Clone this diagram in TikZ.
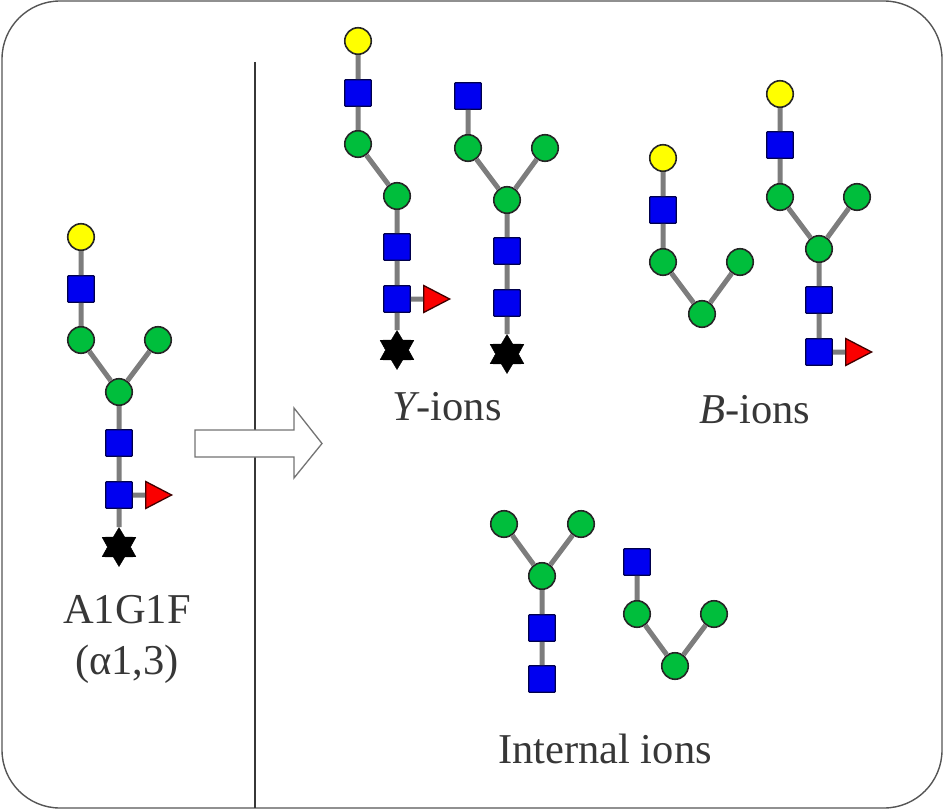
\documentclass[tikz,border=0pt]{standalone}
\usepackage{fontspec}
\setmainfont{Liberation Serif}
\usetikzlibrary{shapes.geometric}
\definecolor{glyblue}{RGB}{0,0,240}
\definecolor{glygreen}{RGB}{0,190,60}
\definecolor{glyyellow}{RGB}{255,255,0}
\definecolor{glyred}{RGB}{250,0,0}
\definecolor{bond}{RGB}{125,125,125}
\definecolor{ink}{RGB}{55,55,55}
\tikzset{
  sq/.style={rectangle,draw=black!70!blue,line width=1.2pt,fill=glyblue,minimum size=26.5pt,inner sep=0pt,rounded corners=0.8pt},
  gc/.style={circle,draw=black!85,line width=1.6pt,fill=glygreen,minimum size=26.5pt,inner sep=0pt},
  yc/.style={circle,draw=black!85,line width=1.6pt,fill=glyyellow,minimum size=26.5pt,inner sep=0pt},
  tri/.style={isosceles triangle,isosceles triangle stretches=true,draw=black!75!red,line width=1.3pt,fill=glyred,minimum width=27pt,minimum height=26pt,inner sep=0pt,anchor=west},
  hex/.style={star,star points=6,star point ratio=1.7,draw=black,fill=black,minimum size=39pt,inner sep=0pt},
  bd/.style={draw=bond,line width=5pt},
  lab/.style={text=ink,font=\fontsize{42.5}{42.5}\selectfont,inner sep=0pt,anchor=center},
}
\begin{document}
\begin{tikzpicture}[x=1pt,y=-1pt]
\useasboundingbox (0,0) rectangle (944,810);
\draw[draw=ink!85,line width=1.4pt,rounded corners=58pt] (2,1) rectangle (942,808);
\coordinate (vt) at (255,62);
\coordinate (vb) at (255,808);
\draw[draw=ink,line width=1.1pt] (vt) -- (vb);
\draw[draw=black!55,line width=1.3pt,fill=white] (195,430) -- (294,430) -- (294,408) -- (322,443.5) -- (294,478) -- (294,457) -- (195,457) -- cycle;
% A1G1F
\node[yc] (a1) at (81,237) {};
\node[sq] (a2) at (81,289) {};
\node[gc] (a3) at (81,340) {};
\node[gc] (a4) at (158,340) {};
\node[gc] (a5) at (119,392) {};
\node[sq] (a6) at (119,443) {};
\node[sq] (a7) at (119,495) {};
\node[tri] (a8) at (145,495) {};
\node[hex] (a9) at (119,547) {};
\draw[bd] (a1)--(a2) (a2)--(a3) (a3)--(a5) (a4)--(a5) (a5)--(a6) (a6)--(a7) (a7)--(a8.west) (a7)--(a9);
\node[lab] (t1) at (127,610) {A1G1F};
\node[lab] (t2) at (127,664) {(α1,3)};
% Y ion 1
\node[yc] (b1) at (358,41) {};
\node[sq] (b2) at (358,93) {};
\node[gc] (b3) at (358,144) {};
\node[gc] (b4) at (397,196) {};
\node[sq] (b5) at (397,247) {};
\node[sq] (b6) at (397,299) {};
\node[tri] (b7) at (423,299) {};
\node[hex] (b8) at (397,350) {};
\draw[bd] (b1)--(b2) (b2)--(b3) (b3)--(b4) (b4)--(b5) (b5)--(b6) (b6)--(b7.west) (b6)--(b8);
% Y ion 2
\node[sq] (c1) at (468,96) {};
\node[gc] (c2) at (468,148) {};
\node[gc] (c3) at (545,148) {};
\node[gc] (c4) at (507,200) {};
\node[sq] (c5) at (507,251) {};
\node[sq] (c6) at (507,303) {};
\node[hex] (c7) at (507,354) {};
\draw[bd] (c1)--(c2) (c2)--(c4) (c3)--(c4) (c4)--(c5) (c5)--(c6) (c6)--(c7);
\node[lab] (t3) at (447,407) {\textit{Y}\kern-3pt-ions};
% B ion 1
\node[yc] (d1) at (663,158) {};
\node[sq] (d2) at (663,210) {};
\node[gc] (d3) at (663,262) {};
\node[gc] (d4) at (740,262) {};
\node[gc] (d5) at (702,314) {};
\draw[bd] (d1)--(d2) (d2)--(d3) (d3)--(d5) (d4)--(d5);
% B ion 2
\node[yc] (e1) at (780,94) {};
\node[sq] (e2) at (780,145) {};
\node[gc] (e3) at (780,197) {};
\node[gc] (e4) at (857,197) {};
\node[gc] (e5) at (819,249) {};
\node[sq] (e6) at (819,300) {};
\node[sq] (e7) at (819,352) {};
\node[tri] (e8) at (845,352) {};
\draw[bd] (e1)--(e2) (e2)--(e3) (e3)--(e5) (e4)--(e5) (e5)--(e6) (e6)--(e7) (e7)--(e8.west);
\node[lab] (t4) at (755,410) {\textit{B}-ions};
% Internal 1
\node[gc] (f1) at (504,524) {};
\node[gc] (f2) at (581,524) {};
\node[gc] (f3) at (542,576) {};
\node[sq] (f4) at (542,628) {};
\node[sq] (f5) at (542,679) {};
\draw[bd] (f1)--(f3) (f2)--(f3) (f3)--(f4) (f4)--(f5);
% Internal 2
\node[sq] (g1) at (637,562) {};
\node[gc] (g2) at (637,614) {};
\node[gc] (g3) at (714,614) {};
\node[gc] (g4) at (675,666) {};
\draw[bd] (g1)--(g2) (g2)--(g4) (g3)--(g4);
\node[lab] (t5) at (605,749) {Internal ions};
\end{tikzpicture}
\end{document}
